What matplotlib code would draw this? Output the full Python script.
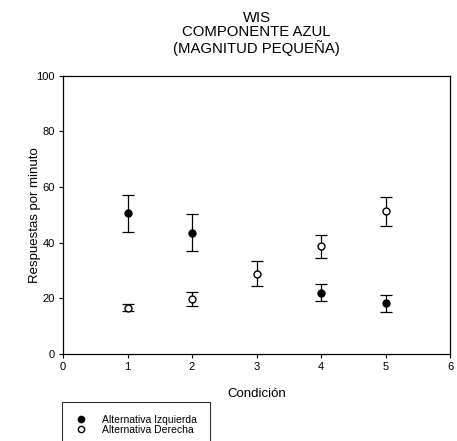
import matplotlib
matplotlib.use("Agg")
import matplotlib.pyplot as plt

plt.rcParams["font.family"] = ["Liberation Sans", "DejaVu Sans"]

# Condición vs respuestas por minuto (means and error-bar half widths)
condicion_izq = [1, 2, 4, 5]
resp_izq = [50.5, 43.6, 22.0, 18.2]
err_izq = [6.6, 6.7, 3.0, 3.0]

condicion_der = [1, 2, 3, 4, 5]
resp_der = [16.6, 19.7, 28.9, 38.7, 51.3]
err_der = [1.3, 2.5, 4.6, 4.1, 5.2]

W, H = 457, 441
fig = plt.figure(figsize=(W / 100, H / 100), dpi=100)
ax = fig.add_axes([63 / W, 1 - 354 / H, (450 - 63) / W, (354 - 75.7) / H])

ax.errorbar(condicion_izq, resp_izq, yerr=err_izq, fmt="o", color="black",
            markerfacecolor="black", markersize=5, capsize=4.5, elinewidth=0.9,
            capthick=0.9, label="Alternativa Izquierda")
ax.errorbar(condicion_der, resp_der, yerr=err_der, fmt="o", color="black",
            markerfacecolor="white", markersize=5, capsize=4.5, elinewidth=0.9,
            capthick=0.9, label="Alternativa Derecha")

ax.set_xlim(0, 6)
ax.set_ylim(0, 100)
ax.set_xticks(range(0, 7))
ax.set_yticks(range(0, 101, 20))
ax.tick_params(direction="out", length=3, width=0.8, labelsize=8, pad=3)
for s in ax.spines.values():
    s.set_linewidth(0.9)

ax.set_xlabel("Condición", fontsize=9.5, labelpad=11)
ax.set_ylabel("Respuestas por minuto", fontsize=9.5)
ax.yaxis.set_label_coords(-0.057, 0.5)
fig.text(256.5 / W, 1 - 11 / H, "WIS\nCOMPONENTE AZUL\n(MAGNITUD PEQUEÑA)",
         ha="center", va="top", fontsize=10.7, linespacing=1.03)

handles, labels = ax.get_legend_handles_labels()
handles = [h[0] for h in handles]
leg = fig.legend(handles, labels, loc="upper left",
                 bbox_to_anchor=(62 / W, 1 - 402 / H), fontsize=7.5,
                 frameon=True, fancybox=False, edgecolor="black",
                 borderpad=1.25, handletextpad=1.4, labelspacing=0.0,
                 handlelength=1.2, borderaxespad=0)
leg.get_frame().set_linewidth(0.8)
for h in leg.legend_handles:
    h.set_markersize(4.5)

fig.savefig("out.png", dpi=100)
